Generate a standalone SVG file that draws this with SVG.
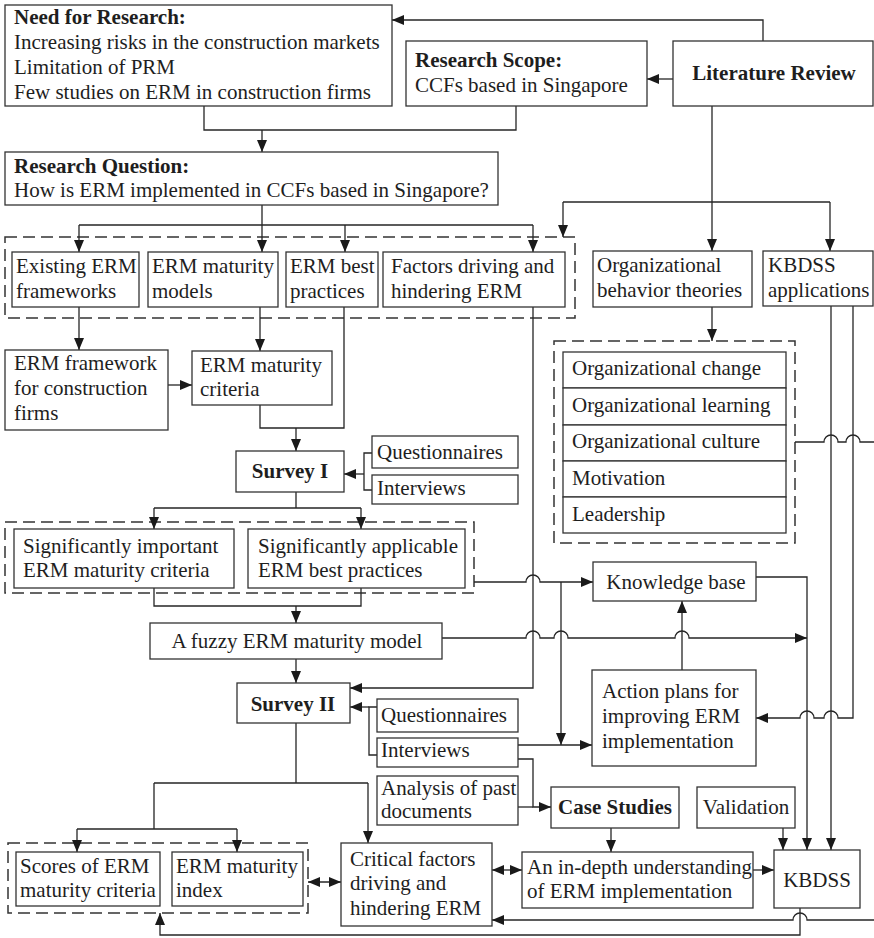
<svg xmlns="http://www.w3.org/2000/svg" width="874" height="938" viewBox="0 0 874 938">
  <style>
    .box { fill: #fff; stroke: #333; stroke-width: 1.3; }
    .dash { fill: none; stroke: #333; stroke-width: 1.5; stroke-dasharray: 12 6; }
    .t { font-family: "Liberation Serif", "Times New Roman", serif; font-size: 21px; fill: #1e1e1e; }
    .b { font-weight: bold; }
    .c { text-anchor: middle; }
    .ln { fill: none; stroke: #262626; stroke-width: 1.3; }
    .ar { marker-end: url(#arrow); }
    .dbl { marker-start: url(#arrow); marker-end: url(#arrow); }
  </style>
  <defs>
    <marker id="arrow" markerUnits="userSpaceOnUse" markerWidth="13" markerHeight="10" refX="12" refY="5" orient="auto-start-reverse">
      <path d="M0,0 L12,5 L0,10 z" fill="#1a1a1a"/>
    </marker>
  </defs>
  <rect width="874" height="938" fill="#fff"/>

  <!-- dashed grouping frames -->
  <g id="groups">
    <rect class="dash" x="5" y="237" width="570" height="81"/>
    <rect class="dash" x="554" y="341" width="241" height="202"/>
    <rect class="dash" x="5" y="522" width="469" height="71"/>
    <rect class="dash" x="8" y="843" width="300" height="70"/>
  </g>

  <!-- connectors -->
  <g id="connectors">
    <path class="ln ar" d="M763,41 V20 H392"/>
    <path class="ln ar" d="M673,79 H647"/>
    <path class="ln" d="M204,106 V130 H516 V106"/>
    <path class="ln ar" d="M262,130 V152"/>
    <path class="ln" d="M262,205 V225 M79,225 H533"/>
    <path class="ln ar" d="M79,225 V252"/>
    <path class="ln ar" d="M262,225 V252"/>
    <path class="ln ar" d="M345,225 V252"/>
    <path class="ln ar" d="M533,225 V252"/>
    <path class="ln ar" d="M712,106 V251"/>
    <path class="ln" d="M563,202 H830"/>
    <path class="ln ar" d="M563,202 V237"/>
    <path class="ln ar" d="M830,202 V251"/>
    <path class="ln ar" d="M712,307 V341"/>
    <path class="ln ar" d="M79,307 V350"/>
    <path class="ln ar" d="M260,307 V351"/>
    <path class="ln ar" d="M168,385 H192"/>
    <path class="ln" d="M260,405 V428 H344 V307"/>
    <path class="ln ar" d="M296,428 V451"/>
    <path class="ln" d="M372,453 H364 V490 H372"/>
    <path class="ln ar" d="M364,474 H344"/>
    <path class="ln" d="M296,492 V508 M154,508 H361"/>
    <path class="ln ar" d="M154,508 V529"/>
    <path class="ln ar" d="M361,508 V529"/>
    <path class="ln" d="M154,588 V606 H361 V588"/>
    <path class="ln ar" d="M296,606 V623"/>
    <path class="ln ar" d="M296,659 V683"/>
    <path class="ln ar" d="M533,307 V688 H350"/>
    <path class="ln ar" d="M474,582 H526 A7,7 0 0 1 540,582 H593"/>
    <path class="ln ar" d="M561,582 V745"/>
    <path class="ln ar" d="M442,638 H526 A7,7 0 0 1 540,638 H554 A7,7 0 0 1 568,638 H675 A7,7 0 0 1 689,638 H807"/>
    <path class="ln ar" d="M756,577 H807 V850"/>
    <path class="ln ar" d="M682,670 V601"/>
    <path class="ln" d="M377,707 H369 V755 H377"/>
    <path class="ln ar" d="M369,707 H350"/>
    <path class="ln ar" d="M518,745 H592"/>
    <path class="ln ar" d="M518,759 H533 V807 H551"/>
    <path class="ln" d="M518,807 H533"/>
    <path class="ln ar" d="M611,828 V852"/>
    <path class="ln ar" d="M783,828 V850"/>
    <path class="ln ar" d="M831,306 V850"/>
    <path class="ln ar" d="M853,306 V718 H838 A7,7 0 0 0 824,718 H814 A7,7 0 0 0 800,718 H756"/>
    <path class="ln" d="M795,442 H824 A7,7 0 0 1 838,442 H846 A7,7 0 0 1 860,442 H874"/>
    <path class="ln ar" d="M753,870 H774"/>
    <path class="ln dbl" d="M492,870 H522"/>
    <path class="ln dbl" d="M308,882 H341"/>
    <path class="ln" d="M296,723 V783 M154,783 H368 M154,783 V829 M77,829 H237"/>
    <path class="ln ar" d="M368,783 V843"/>
    <path class="ln ar" d="M77,829 V852"/>
    <path class="ln ar" d="M237,829 V852"/>
    <path class="ln ar" d="M874,920 H807 A7,7 0 0 0 793,920 H492"/>
    <path class="ln ar" d="M800,908 V935 H160 V913"/>
  </g>

  <g id="need">
    <rect class="box" x="5" y="5" width="387" height="101"/>
    <text class="t b" x="14" y="24">Need for Research:</text>
    <text class="t" x="14" y="49">Increasing risks in the construction markets</text>
    <text class="t" x="14" y="74">Limitation of PRM</text>
    <text class="t" x="14" y="99">Few studies on ERM in construction firms</text>
  </g>
  <g id="scope">
    <rect class="box" x="406" y="41" width="241" height="65"/>
    <text class="t b" x="415" y="67">Research Scope:</text>
    <text class="t" x="415" y="92">CCFs based in Singapore</text>
  </g>
  <g id="literature">
    <rect class="box" x="673" y="41" width="200" height="65"/>
    <text class="t b c" x="774" y="80">Literature Review</text>
  </g>
  <g id="question">
    <rect class="box" x="5" y="152" width="493" height="53"/>
    <text class="t b" x="14" y="173">Research Question:</text>
    <text class="t" x="14" y="197">How is ERM implemented in CCFs based in Singapore?</text>
  </g>
  <g id="existing">
    <rect class="box" x="12" y="252" width="127" height="55"/>
    <text class="t" x="16" y="273">Existing ERM</text>
    <text class="t" x="16" y="298">frameworks</text>
  </g>
  <g id="models">
    <rect class="box" x="148" y="252" width="130" height="55"/>
    <text class="t" x="152" y="273">ERM maturity</text>
    <text class="t" x="152" y="298">models</text>
  </g>
  <g id="best">
    <rect class="box" x="286" y="252" width="92" height="55"/>
    <text class="t" x="290" y="273">ERM best</text>
    <text class="t" x="290" y="298">practices</text>
  </g>
  <g id="factors">
    <rect class="box" x="383" y="252" width="182" height="55"/>
    <text class="t" x="391" y="273">Factors driving and</text>
    <text class="t" x="391" y="298">hindering ERM</text>
  </g>
  <g id="orgbehavior">
    <rect class="box" x="593" y="251" width="159" height="56"/>
    <text class="t" x="597" y="272">Organizational</text>
    <text class="t" x="597" y="297">behavior theories</text>
  </g>
  <g id="kbdssapps">
    <rect class="box" x="763" y="251" width="110" height="55"/>
    <text class="t" x="768" y="272">KBDSS</text>
    <text class="t" x="768" y="297">applications</text>
  </g>
  <g id="theories">
    <rect class="box" x="563" y="352" width="223" height="36"/>
    <text class="t" x="572" y="375">Organizational change</text>
    <rect class="box" x="563" y="388" width="223" height="37"/>
    <text class="t" x="572" y="412">Organizational learning</text>
    <rect class="box" x="563" y="425" width="223" height="36"/>
    <text class="t" x="572" y="448">Organizational culture</text>
    <rect class="box" x="563" y="461" width="223" height="36"/>
    <text class="t" x="572" y="485">Motivation</text>
    <rect class="box" x="563" y="497" width="223" height="36"/>
    <text class="t" x="572" y="521">Leadership</text>
  </g>
  <g id="framework">
    <rect class="box" x="5" y="350" width="163" height="80"/>
    <text class="t" x="14" y="370">ERM framework</text>
    <text class="t" x="14" y="395">for construction</text>
    <text class="t" x="14" y="420">firms</text>
  </g>
  <g id="criteria">
    <rect class="box" x="192" y="351" width="140" height="54"/>
    <text class="t" x="200" y="372">ERM maturity</text>
    <text class="t" x="200" y="396">criteria</text>
  </g>
  <g id="survey1">
    <rect class="box" x="236" y="451" width="108" height="41"/>
    <text class="t b c" x="290" y="478">Survey I</text>
  </g>
  <g id="questionnaires1">
    <rect class="box" x="372" y="436" width="146" height="32"/>
    <text class="t" x="377" y="459">Questionnaires</text>
  </g>
  <g id="interviews1">
    <rect class="box" x="372" y="475" width="146" height="29"/>
    <text class="t" x="377" y="495">Interviews</text>
  </g>
  <g id="sigimportant">
    <rect class="box" x="14" y="529" width="220" height="59"/>
    <text class="t" x="23" y="553">Significantly important</text>
    <text class="t" x="23" y="577">ERM maturity criteria</text>
  </g>
  <g id="sigapplicable">
    <rect class="box" x="248" y="529" width="217" height="59"/>
    <text class="t" x="258" y="553">Significantly applicable</text>
    <text class="t" x="258" y="577">ERM best practices</text>
  </g>
  <g id="knowledgebase">
    <rect class="box" x="593" y="562" width="163" height="39"/>
    <text class="t c" x="676" y="589">Knowledge base</text>
  </g>
  <g id="fuzzy">
    <rect class="box" x="150" y="623" width="292" height="36"/>
    <text class="t c" x="297" y="648">A fuzzy ERM maturity model</text>
  </g>
  <g id="survey2">
    <rect class="box" x="237" y="683" width="113" height="40"/>
    <text class="t b c" x="293" y="711">Survey II</text>
  </g>
  <g id="actionplans">
    <rect class="box" x="592" y="670" width="164" height="96"/>
    <text class="t" x="602" y="698">Action plans for</text>
    <text class="t" x="602" y="723">improving ERM</text>
    <text class="t" x="602" y="748">implementation</text>
  </g>
  <g id="questionnaires2">
    <rect class="box" x="377" y="699" width="141" height="33"/>
    <text class="t" x="381" y="722">Questionnaires</text>
  </g>
  <g id="interviews2">
    <rect class="box" x="377" y="738" width="141" height="29"/>
    <text class="t" x="381" y="757">Interviews</text>
  </g>
  <g id="analysis">
    <rect class="box" x="377" y="776" width="141" height="49"/>
    <text class="t" x="381" y="795">Analysis of past</text>
    <text class="t" x="381" y="818">documents</text>
  </g>
  <g id="casestudies">
    <rect class="box" x="551" y="787" width="128" height="41"/>
    <text class="t b c" x="615" y="814">Case Studies</text>
  </g>
  <g id="validation">
    <rect class="box" x="697" y="787" width="98" height="41"/>
    <text class="t c" x="746" y="814">Validation</text>
  </g>
  <g id="scores">
    <rect class="box" x="16" y="852" width="144" height="54"/>
    <text class="t" x="20" y="873">Scores of ERM</text>
    <text class="t" x="20" y="897">maturity criteria</text>
  </g>
  <g id="index">
    <rect class="box" x="172" y="852" width="131" height="54"/>
    <text class="t" x="176" y="873">ERM maturity</text>
    <text class="t" x="176" y="897">index</text>
  </g>
  <g id="critical">
    <rect class="box" x="341" y="843" width="151" height="83"/>
    <text class="t" x="350" y="866">Critical factors</text>
    <text class="t" x="350" y="890">driving and</text>
    <text class="t" x="350" y="915">hindering ERM</text>
  </g>
  <g id="indepth">
    <rect class="box" x="522" y="852" width="231" height="56"/>
    <text class="t" x="527" y="874">An in-depth understanding</text>
    <text class="t" x="527" y="898">of ERM implementation</text>
  </g>
  <g id="kbdss">
    <rect class="box" x="774" y="850" width="86" height="58"/>
    <text class="t c" x="817" y="887">KBDSS</text>
  </g>
</svg>
